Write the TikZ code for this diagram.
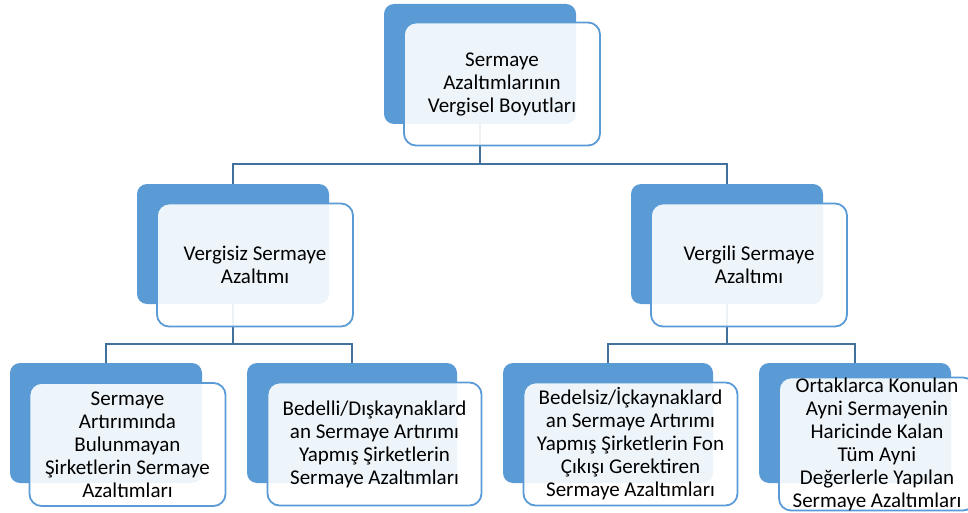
\documentclass[tikz,border=0pt]{standalone}
\usepackage{fontspec}
\setmainfont{Carlito}
\usepackage{tikz}
\usetikzlibrary{positioning}
\definecolor{accent}{HTML}{5B9BD5}
\definecolor{linkblue}{HTML}{41719C}

\begin{document}
\begin{tikzpicture}[x=1pt,y=-1pt,
  backbox/.style={draw=none,fill=accent,rounded corners=10pt,inner sep=0pt,minimum width=192pt,minimum height=120pt},
  frontbox/.style={draw=accent,line width=1.8pt,fill=white,fill opacity=.9,text opacity=1,rounded corners=12pt,inner sep=0pt,
    minimum width=196pt,minimum height=123pt,align=center,font=\fontsize{21}{23}\selectfont},
  link/.style={draw=linkblue,line width=2pt}]
\useasboundingbox (0,0) rectangle (968,513);
% back shapes
\node[backbox] (b0) at (480,64){};
\node[backbox] (b1) at (233,244){};
\node[backbox] (b2) at (727,244){};
\node[backbox] (b11) at (106,423){};
\node[backbox,minimum width=210pt] (b12) at (352,423){};
\node[backbox,minimum width=210pt] (b21) at (608,423){};
\node[backbox] (b22) at (855,423){};
% connectors
\draw[link] (b0.south) -- ++(0,40) -| (b1.north);
\draw[link] (b0.south) -- ++(0,40) -| (b2.north);
\draw[link] (b1.south) -- ++(0,40) -| (b11.north);
\draw[link] (b1.south) -- ++(0,40) -| (b12.north);
\draw[link] (b2.south) -- ++(0,40) -| (b21.north);
\draw[link] (b2.south) -- ++(0,40) -| (b22.north);
% front shapes with the texts
\node[frontbox] (f0) at (502,84){Sermaye\\Azaltımlarının\\Vergisel Boyutları};
\node[frontbox] (f1) at (255,265){Vergisiz Sermaye\\Azaltımı};
\node[frontbox] (f2) at (749,265){Vergili Sermaye\\Azaltımı};
\node[frontbox] (f11) at (127.5,444.5){Sermaye\\Artırımında\\Bulunmayan\\Şirketlerin Sermaye\\Azaltımları};
\node[frontbox,minimum width=214pt] (f12) at (374.5,444){Bedelli/Dışkaynaklard\\an Sermaye Artırımı\\Yapmış Şirketlerin\\Sermaye Azaltımları};
\node[frontbox,minimum width=214pt] (f21) at (630.5,444){Bedelsiz/İçkaynaklard\\an Sermaye Artırımı\\Yapmış Şirketlerin Fon\\Çıkışı Gerektiren\\Sermaye Azaltımları};
\node[frontbox] (f22) at (877,444){Ortaklarca Konulan\\Ayni Sermayenin\\Haricinde Kalan\\Tüm Ayni\\Değerlerle Yapılan\\Sermaye Azaltımları};
\end{tikzpicture}
\end{document}
